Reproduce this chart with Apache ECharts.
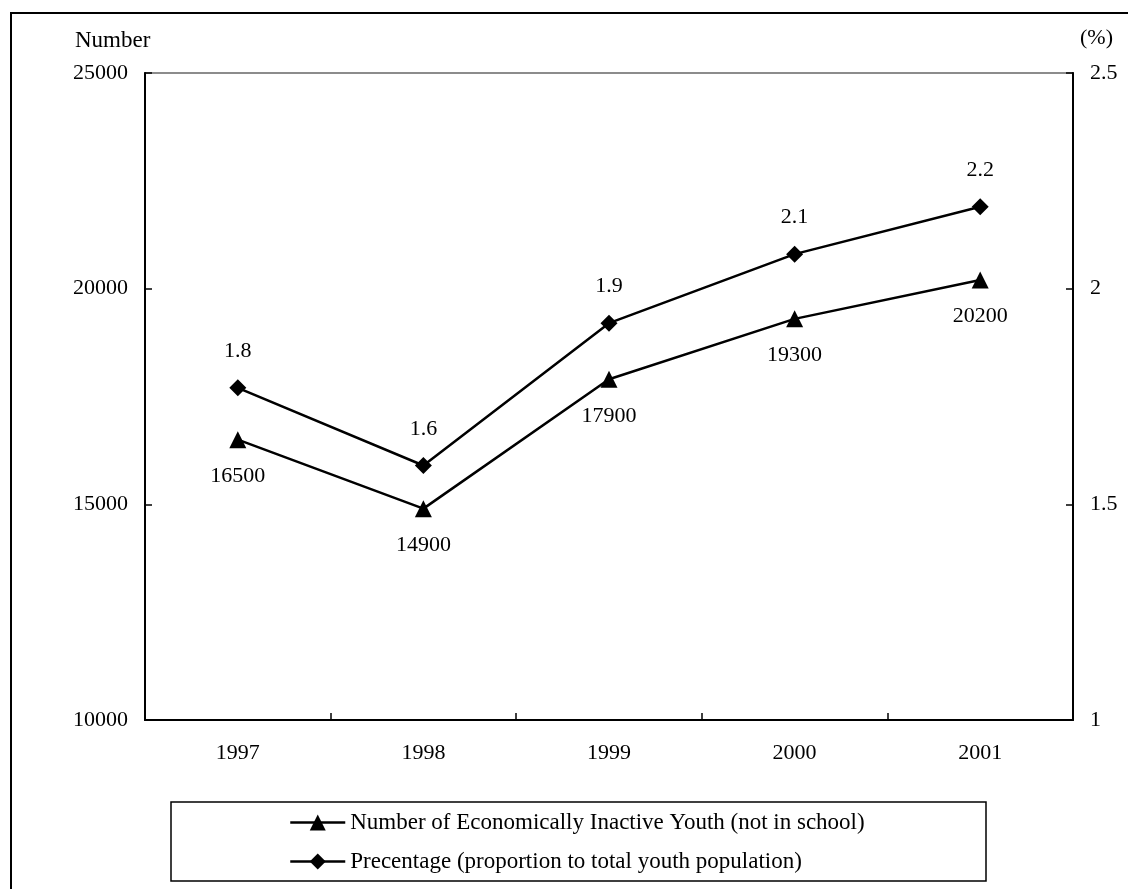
<!DOCTYPE html>
<html>
<head>
<meta charset="utf-8">
<title>Economically Inactive Youth (not in school), 1997-2001</title>
<script src="https://cdn.jsdelivr.net/npm/echarts@6/dist/echarts.min.js"></script>
<style>
  html, body { margin: 0; padding: 0; background: #fff; }
  #chart { width: 1128px; height: 889px; }
</style>
</head>
<body>
<div id="chart"></div>
<script>
// Years on the category axis
var years = ['1997', '1998', '1999', '2000', '2001'];
// Number of economically inactive youth not in school (left axis)
var inactiveYouth = [16500, 14900, 17900, 19300, 20200];
// Share of the total youth population, % (right axis; labels show one decimal)
var youthShare = [1.77, 1.59, 1.92, 2.08, 2.19];

// Tick settings for the two value axes
var countTicks = { min: 10000, max: 25000, interval: 5000 };
var shareTicks = { min: 1, max: 2.5, interval: 0.5 };

var seriesNames = [
  'Number of Economically Inactive Youth (not in school)',
  'Precentage (proportion to total youth population)'
];

var numFont = 'Liberation Serif, Times New Roman, serif';
var txtFont = 'Liberation Serif, Times New Roman, serif';

var chart = echarts.init(document.getElementById('chart'), null, { renderer: 'canvas' });

chart.setOption({
  animation: false,
  backgroundColor: '#ffffff',
  grid: {
    left: 145, right: 55, top: 73, bottom: 169,
    show: true,
    borderColor: '#8c8c8c',
    borderWidth: 2,
    backgroundColor: 'transparent'
  },
  graphic: [
    {
      type: 'rect', z: 0, silent: true,
      shape: { x: 11, y: 13, width: 1300, height: 1100 },
      style: { fill: 'none', stroke: '#000', lineWidth: 2 }
    },
    {
      type: 'rect', z: 0, silent: true,
      shape: { x: 171, y: 802, width: 815, height: 79 },
      style: { fill: 'none', stroke: '#000', lineWidth: 1.5 }
    },
    {
      type: 'text', left: 75, top: 29, silent: true,
      style: { text: 'Number', fill: '#000', font: '23px ' + txtFont }
    },
    {
      type: 'text', left: 1080, top: 27, silent: true,
      style: { text: '(%)', fill: '#000', font: '22px ' + txtFont }
    }
  ],
  legend: {
    orient: 'vertical',
    left: 289,
    top: 811,
    padding: 0,
    itemWidth: 55,
    itemHeight: 20,
    itemGap: 16,
    data: seriesNames,
    lineStyle: { width: 2.5 },
    textStyle: { fontFamily: txtFont, fontSize: 23, color: '#000' }
  },
  xAxis: {
    type: 'category',
    data: years,
    boundaryGap: true,
    axisLine: { lineStyle: { color: '#000', width: 2 } },
    axisTick: { show: true, inside: true, length: 7, lineStyle: { color: '#000', width: 1.5 } },
    axisLabel: { margin: 22, color: '#000', fontFamily: numFont, fontSize: 22 },
    splitLine: { show: false }
  },
  yAxis: [
    {
      type: 'value',
      position: 'left',
      min: countTicks.min, max: countTicks.max, interval: countTicks.interval,
      axisLine: { show: true, lineStyle: { color: '#000', width: 2 } },
      axisTick: { show: true, inside: true, length: 7, lineStyle: { color: '#000', width: 1.5 } },
      axisLabel: {
        margin: 17, color: '#000', fontFamily: numFont, fontSize: 22,
        formatter: function (v) { return String(v); }
      },
      splitLine: { show: false }
    },
    {
      type: 'value',
      position: 'right',
      min: shareTicks.min, max: shareTicks.max, interval: shareTicks.interval,
      axisLine: { show: true, lineStyle: { color: '#000', width: 2 } },
      axisTick: { show: true, inside: true, length: 7, lineStyle: { color: '#000', width: 1.5 } },
      axisLabel: {
        margin: 17, color: '#000', fontFamily: numFont, fontSize: 22,
        formatter: function (v) { return String(v); }
      },
      splitLine: { show: false }
    }
  ],
  series: [
    {
      name: seriesNames[0],
      type: 'line',
      yAxisIndex: 0,
      data: inactiveYouth,
      symbol: 'triangle',
      symbolSize: 17,
      showAllSymbol: true,
      lineStyle: { color: '#000', width: 2.5 },
      itemStyle: { color: '#000', borderWidth: 0 },
      label: {
        show: true,
        position: 'bottom',
        distance: 17,
        color: '#000',
        fontFamily: numFont,
        fontSize: 22,
        formatter: function (p) { return String(p.value); }
      },
      z: 3
    },
    {
      name: seriesNames[1],
      type: 'line',
      yAxisIndex: 1,
      data: youthShare,
      symbol: 'diamond',
      symbolSize: 17,
      showAllSymbol: true,
      lineStyle: { color: '#000', width: 2.5 },
      itemStyle: { color: '#000', borderWidth: 0 },
      label: {
        show: true,
        position: 'top',
        distance: 17,
        color: '#000',
        fontFamily: numFont,
        fontSize: 22,
        formatter: function (p) { return p.value.toFixed(1); }
      },
      z: 3
    }
  ]
});
</script>
</body>
</html>
